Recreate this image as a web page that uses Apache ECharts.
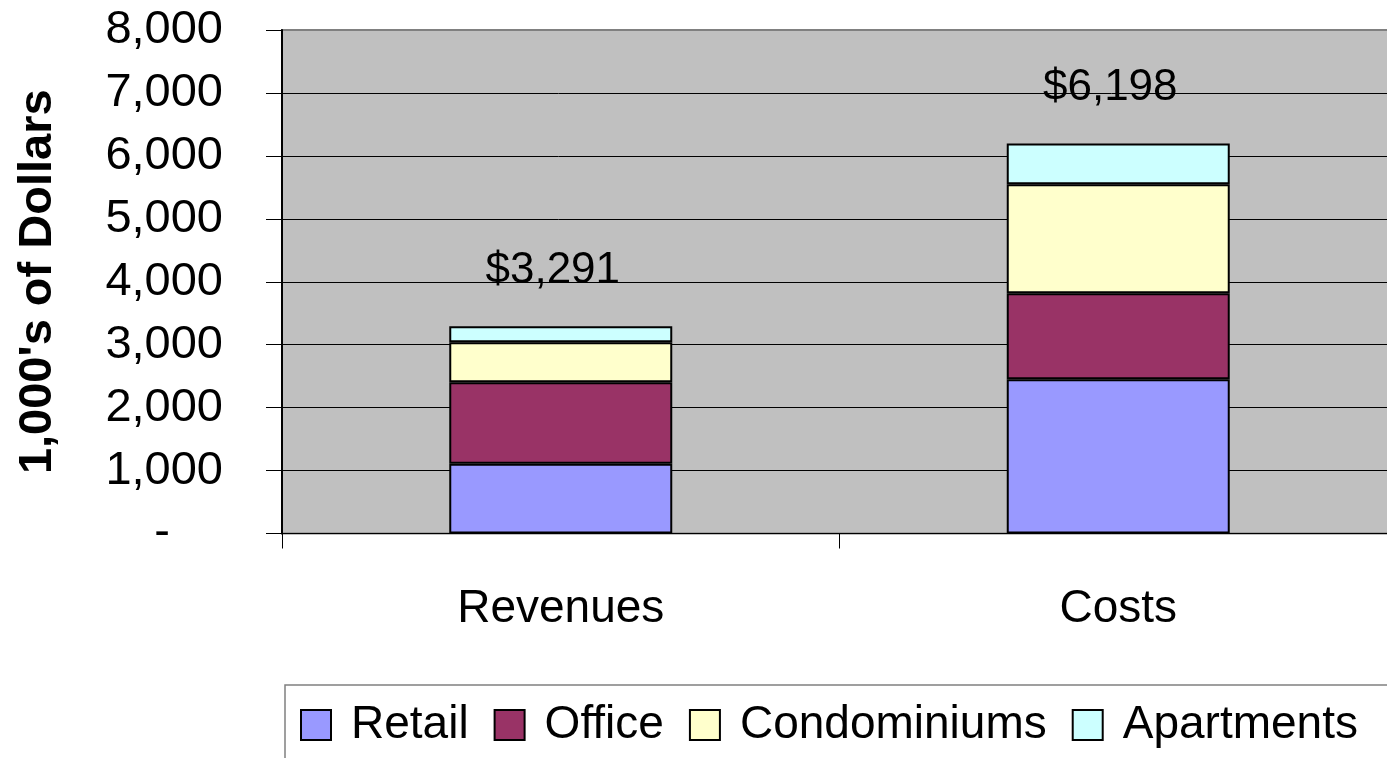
<!DOCTYPE html>
<html>
<head>
<meta charset="utf-8">
<script src="https://cdn.jsdelivr.net/npm/echarts@6/dist/echarts.min.js"></script>
<style>
  html, body { margin: 0; padding: 0; background: #fff; }
  #chart { width: 1387px; height: 758px; }
</style>
</head>
<body>
<div id="chart"></div>
<script>
const categories = ["Revenues", "Costs"];
const seriesNames = ["Retail", "Office", "Condominiums", "Apartments"];
const retail = [1109, 2450];
const office = [1293, 1366];
const condominiums = [636, 1732];
const apartments = [253, 650];
const totals = [3291, 6198];
const colors = ["#9999FF", "#993366", "#FFFFCC", "#CCFFFF"];

const font = "'Liberation Sans', Arial, sans-serif";
const chart = echarts.init(document.getElementById("chart"));

const values = [retail, office, condominiums, apartments];

const series = seriesNames.map((name, i) => ({
  name,
  type: "bar",
  stack: "total",
  barWidth: "40%",
  data: values[i],
  itemStyle: { color: colors[i], borderColor: "#000", borderWidth: 2 },
  label: i === 3 ? {
    show: true,
    position: "top",
    distance: 34,
    offset: [-8, 0],
    fontFamily: font,
    fontSize: 44,
    color: "#000",
    formatter: (p) => "$" + totals[p.dataIndex].toLocaleString("en-US"),
  } : { show: false },
}));

chart.setOption({
  animation: false,
  color: colors,
  graphic: [
    {
      type: "rect",
      shape: { x: 285, y: 685, width: 1200, height: 200 },
      style: { fill: "#fff", stroke: "#808080", lineWidth: 1.5 },
      z: -1,
    },
  ],
  grid: {
    left: 282,
    right: -10,
    top: 30,
    bottom: 224.5,
    containLabel: false,
    outerBoundsMode: "none",
    show: true,
    backgroundColor: "#C0C0C0",
    borderColor: "#808080",
    borderWidth: 2,
  },
  legend: {
    left: 300,
    top: 702,
    padding: 0,
    itemWidth: 30,
    itemHeight: 30,
    itemGap: 25,
    icon: "rect",
    textStyle: {
      fontFamily: font,
      fontSize: 46,
      color: "#000",
      padding: [0, 0, 0, 15],
    },
    data: seriesNames,
  },
  xAxis: {
    type: "category",
    data: categories,
    axisLine: { lineStyle: { color: "#000", width: 1 } },
    axisTick: { show: true, length: 15, lineStyle: { color: "#000" } },
    axisLabel: { fontFamily: font, fontSize: 46, color: "#000", margin: 53 },
  },
  yAxis: {
    type: "value",
    min: 0,
    max: 8000,
    interval: 1000,
    name: "1,000's of Dollars",
    nameLocation: "middle",
    nameRotate: 90,
    nameGap: 220,
    nameTextStyle: { fontFamily: font, fontSize: 47, fontWeight: "bold", color: "#000" },
    axisLine: { show: true, lineStyle: { color: "#000", width: 2 } },
    axisTick: { show: true, length: 16, lineStyle: { color: "#000" } },
    axisLabel: {
      fontFamily: font,
      fontSize: 47,
      color: "#000",
      margin: 59,
      formatter: (v) => (v === 0 ? "{d|-}" : v.toLocaleString("en-US")),
      rich: { d: { fontFamily: font, fontSize: 47, color: "#000", padding: [0, 53, 0, 0] } },
    },
    splitLine: {
      lineStyle: {
        color: ["#000", "#000", "#000", "#000", "#000", "#000", "#000", "#000", "#808080"],
        width: 1,
      },
    },
  },
  series,
});
</script>
</body>
</html>
